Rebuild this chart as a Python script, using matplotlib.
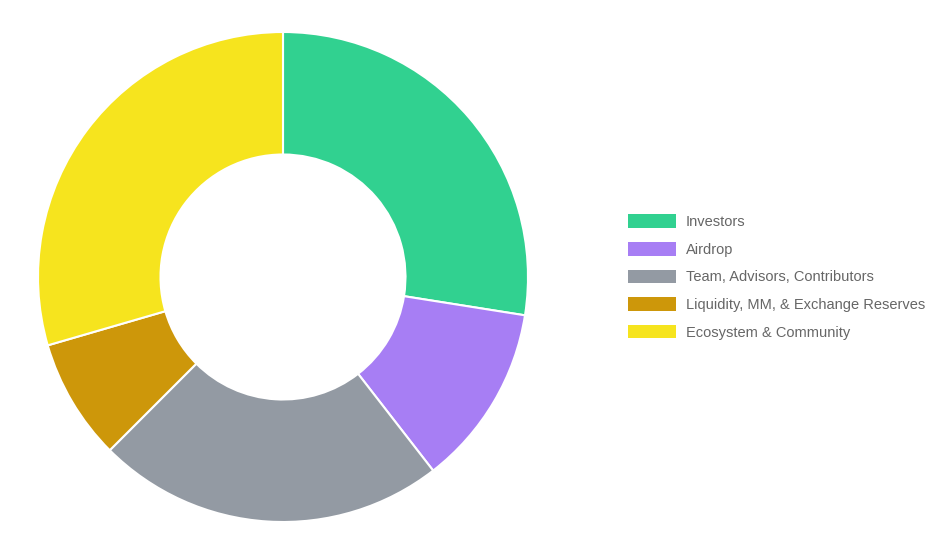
import matplotlib.pyplot as plt

labels = ['Investors', 'Airdrop', 'Team, Advisors, Contributors',
          'Liquidity, MM, & Exchange Reserves', 'Ecosystem & Community']
shares = [27.5, 12, 23, 8, 29.5]
colors = ['#31D190', '#A77EF4', '#939AA3', '#CD970A', '#F6E41E']

plt.rcParams['font.family'] = ['Liberation Sans', 'DejaVu Sans']

fig = plt.figure(figsize=(9.42, 5.52), dpi=100)
ax = fig.add_axes([38 / 942, 30 / 552, 490 / 942, 490 / 552])

wedges, _ = ax.pie(shares, colors=colors, startangle=90, counterclock=False,
                   radius=1, wedgeprops=dict(width=0.5, edgecolor='white', linewidth=1.5))
ax.set_xlim(-1, 1)
ax.set_ylim(-1, 1)
ax.set_aspect('equal')

leg = fig.legend(wedges, labels, loc='center left', bbox_to_anchor=(615 / 942, 1 - 277 / 552),
                 frameon=False, fontsize=10.5, handlelength=3.3, handleheight=1.05,
                 handletextpad=0.65, labelspacing=0.88, labelcolor='#666666')
for h in leg.legend_handles:
    h.set_linewidth(0)

fig.savefig('out.png', dpi=100)
